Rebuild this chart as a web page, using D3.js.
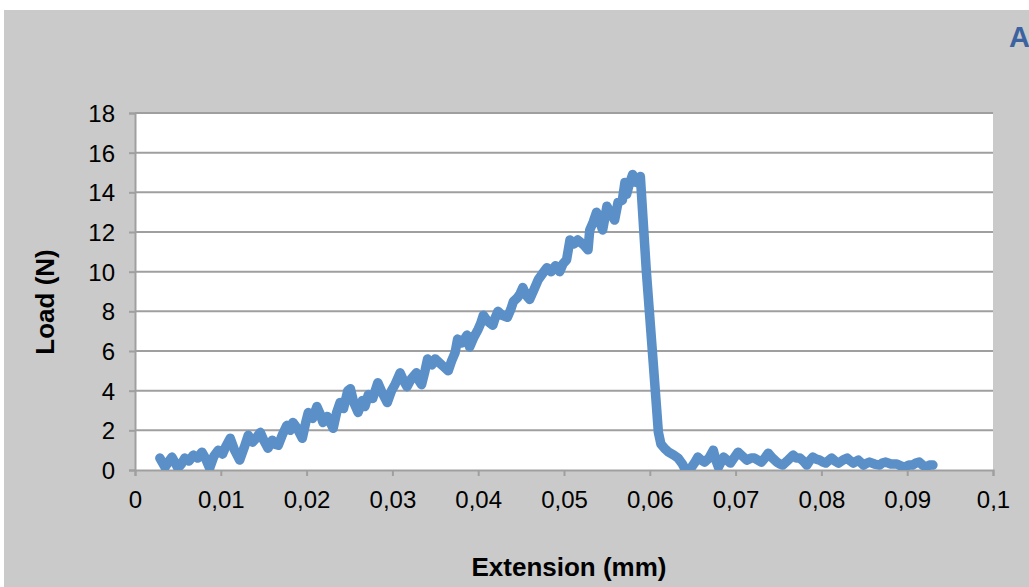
<!DOCTYPE html>
<html><head><meta charset="utf-8">
<script src="https://cdn.jsdelivr.net/npm/d3@7/dist/d3.min.js"></script>
<style>html,body{margin:0;padding:0;background:#fff;}svg{display:block;}</style>
</head><body>
<script>
const extension = [0.0029,0.0033,0.0035,0.0039,0.0043,0.0047,0.0050,0.0054,0.0058,0.0063,0.0068,0.0073,0.0078,0.0082,0.0087,0.0092,0.0097,0.0102,0.0106,0.0111,0.0116,0.0122,0.0127,0.0132,0.0137,0.0141,0.0146,0.0150,0.0155,0.0160,0.0163,0.0167,0.0172,0.0177,0.0181,0.0184,0.0189,0.0195,0.0199,0.0202,0.0207,0.0212,0.0216,0.0219,0.0224,0.0231,0.0235,0.0239,0.0243,0.0248,0.0251,0.0255,0.0260,0.0265,0.0268,0.0272,0.0277,0.0283,0.0288,0.0294,0.0299,0.0303,0.0309,0.0313,0.0317,0.0322,0.0328,0.0331,0.0334,0.0338,0.0341,0.0346,0.0350,0.0355,0.0360,0.0365,0.0369,0.0373,0.0376,0.0381,0.0387,0.0390,0.0395,0.0400,0.0403,0.0406,0.0411,0.0417,0.0420,0.0423,0.0428,0.0434,0.0438,0.0441,0.0446,0.0449,0.0452,0.0456,0.0460,0.0465,0.0470,0.0475,0.0480,0.0485,0.0490,0.0495,0.0499,0.0503,0.0507,0.0512,0.0516,0.0519,0.0524,0.0528,0.0530,0.0534,0.0538,0.0541,0.0545,0.0548,0.0550,0.0555,0.0559,0.0563,0.0568,0.0571,0.0573,0.0576,0.0580,0.0584,0.0589,0.0596,0.0604,0.0610,0.0613,0.0617,0.0622,0.0628,0.0633,0.0638,0.0641,0.0643,0.0648,0.0652,0.0656,0.0660,0.0664,0.0669,0.0674,0.0677,0.0680,0.0683,0.0686,0.0690,0.0694,0.0698,0.0703,0.0708,0.0713,0.0718,0.0722,0.0726,0.0730,0.0734,0.0738,0.0743,0.0748,0.0752,0.0755,0.0760,0.0767,0.0771,0.0775,0.0779,0.0783,0.0786,0.0790,0.0794,0.0798,0.0802,0.0805,0.0809,0.0812,0.0816,0.0820,0.0825,0.0830,0.0834,0.0837,0.0843,0.0849,0.0853,0.0856,0.0862,0.0868,0.0871,0.0875,0.0881,0.0888,0.0893,0.0897,0.0902,0.0906,0.0910,0.0914,0.0918,0.0922,0.0926,0.0930];
const load = [0.6,0.3,0.15,0.4,0.65,0.35,0.1,0.3,0.6,0.45,0.75,0.6,0.9,0.6,0.1,0.7,1.0,0.8,1.2,1.6,1.0,0.5,1.1,1.75,1.4,1.6,1.9,1.5,1.1,1.5,1.3,1.25,1.8,2.25,2.0,2.4,2.1,1.6,2.4,2.9,2.6,3.2,2.8,2.4,2.7,2.1,2.9,3.4,3.1,4.0,4.1,3.4,2.9,3.5,3.2,3.8,3.6,4.4,3.9,3.4,4.0,4.3,4.9,4.5,4.2,4.6,4.9,4.5,4.3,5.0,5.6,5.3,5.6,5.4,5.2,5.0,5.5,5.9,6.6,6.4,6.8,6.2,6.7,7.1,7.4,7.8,7.5,7.3,7.7,8.0,7.8,7.7,8.1,8.5,8.7,8.9,9.2,8.8,8.6,9.1,9.6,9.9,10.2,10.0,10.3,10.0,10.4,10.6,11.6,11.4,11.6,11.5,11.3,11.1,12.1,12.5,13.0,12.6,12.1,12.8,13.3,12.9,12.6,13.5,13.6,14.5,13.9,14.4,14.9,14.5,14.8,10.0,5.4,1.9,1.3,1.1,0.9,0.75,0.6,0.3,0.05,-0.2,0.1,0.35,0.65,0.5,0.4,0.6,1.0,0.5,0.15,0.4,0.65,0.5,0.35,0.6,0.9,0.7,0.5,0.6,0.6,0.5,0.4,0.6,0.85,0.6,0.4,0.3,0.25,0.45,0.75,0.6,0.6,0.45,0.25,0.45,0.65,0.55,0.5,0.4,0.35,0.5,0.6,0.45,0.35,0.5,0.6,0.45,0.35,0.5,0.25,0.35,0.4,0.3,0.25,0.35,0.4,0.3,0.3,0.2,0.15,0.25,0.25,0.35,0.4,0.25,0.15,0.25,0.25];
const xTicks = [0,0.01,0.02,0.03,0.04,0.05,0.06,0.07,0.08,0.09,0.1];
const yTicks = [0,2,4,6,8,10,12,14,16,18];
const title = "A";
const xTitle = "Extension (mm)";
const yTitle = "Load (N)";

const W = 1029, H = 587;
const svg = d3.select("body").append("svg").attr("width", W).attr("height", H);
svg.append("rect").attr("x",4).attr("y",10).attr("width",W-4).attr("height",H-10).attr("fill","#cacaca");

const L = 135, R = 993, T = 113, B = 470;
const x = d3.scaleLinear().domain([0,0.1]).range([L,R]);
const y = d3.scaleLinear().domain([0,18]).range([B,T]);
const fmt = d => d === 0 ? "0" : String(+d.toFixed(2)).replace(".", ",");

svg.append("rect").attr("x",L).attr("y",T).attr("width",R-L).attr("height",B-T).attr("fill","#fff");

const grid = svg.append("g");
grid.selectAll("line").data(yTicks.filter(d=>d>0)).join("line")
  .attr("x1",L).attr("x2",R).attr("y1",d=>y(d)).attr("y2",d=>y(d))
  .attr("stroke","#9f9f9f").attr("stroke-width",2);

const font = "'Liberation Sans', Arial, sans-serif";
const gx = svg.append("g").attr("transform",`translate(0,${B})`)
  .call(d3.axisBottom(x).tickValues(xTicks).tickFormat(fmt).tickSize(6).tickPadding(14));
const gy = svg.append("g").attr("transform",`translate(${L},0)`)
  .call(d3.axisLeft(y).tickValues(yTicks).tickFormat(fmt).tickSize(6).tickPadding(14));
[gx,gy].forEach(g=>{
  g.select(".domain").attr("stroke","#9f9f9f").attr("stroke-width",2);
  g.selectAll(".tick line").attr("stroke","#9f9f9f").attr("stroke-width",2);
  g.selectAll("text").attr("fill","#000").style("font-family",font).style("font-size","24px");
});
gx.selectAll("text").attr("y",38).attr("dy","0");
gy.selectAll("text").attr("dy","0.36em");

svg.append("clipPath").attr("id","clip").append("rect").attr("x",L).attr("y",T-10).attr("width",R-L).attr("height",B-T+10);
const line = d3.line().x((d,i)=>x(extension[i])).y((d,i)=>y(load[i])).curve(d3.curveLinear);
svg.append("path").datum(load).attr("clip-path","url(#clip)").attr("d",line)
  .attr("fill","none").attr("stroke","#5b8fc8").attr("stroke-width",9.5)
  .attr("stroke-linejoin","round").attr("stroke-linecap","round");

svg.append("text").attr("x",569).attr("y",576).attr("text-anchor","middle")
  .style("font-family",font).style("font-weight","bold").style("font-size","26px").attr("fill","#000").text(xTitle);
svg.append("text").attr("transform","translate(54,302) rotate(-90)").attr("text-anchor","middle")
  .style("font-family",font).style("font-weight","bold").style("font-size","26px").attr("fill","#000").text(yTitle);
svg.append("text").attr("x",1009).attr("y",47)
  .style("font-family",font).style("font-weight","bold").style("font-size","29px").attr("fill","#3b63a0").text(title);
</script>
</body></html>
